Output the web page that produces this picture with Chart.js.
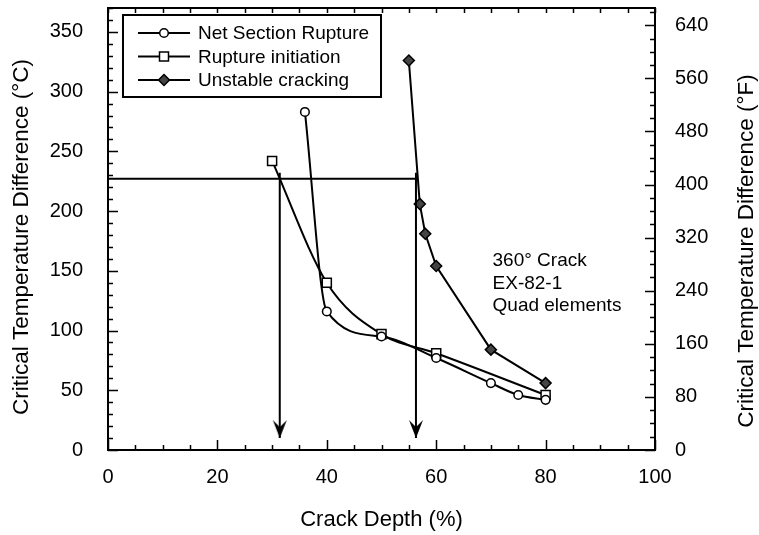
<!DOCTYPE html>
<html><head><meta charset="utf-8">
<script src="https://cdn.jsdelivr.net/npm/chart.js@4/dist/chart.umd.min.js"></script>
<style>html,body{margin:0;padding:0;background:#fff;}#wrap{width:759px;height:535px;}</style>
</head><body><div id="wrap"><canvas id="c" width="759" height="535"></canvas></div>
<script>
// ---- data ----
const netX  = [36, 40, 50, 60, 70, 75, 80];
const netY  = [283, 116, 95, 77, 56, 46, 42];
const ruptX = [30, 40, 50, 60, 80];
const ruptY = [242, 140, 97, 81, 46];
const unstX = [55, 57, 58, 60, 70, 80];
const unstY = [326, 206, 181, 154, 84, 56];
const seriesLabels = ['Net Section Rupture', 'Rupture initiation', 'Unstable cracking'];
const refLevelC = 227;           // horizontal reference line (°C)
const arrowXs = [31.4, 56.3];    // crack depths marked by arrows
const arrowTopC = 232, arrowTipC = 10;
const xTickLabels  = [0, 20, 40, 60, 80, 100];
const yTickLabels  = [0, 50, 100, 150, 200, 250, 300, 350];
const y2TickLabels = [0, 80, 160, 240, 320, 400, 480, 560, 640];
const noteLines = ['360° Crack', 'EX-82-1', 'Quad elements'];
const noteAt = {x: 70.3, y: 158};
const xTitle = 'Crack Depth (%)';
const yTitle = 'Critical Temperature Difference (°C)';
const y2Title = 'Critical Temperature Difference (°F)';
const yMaxC = 370;

const FONT = '"Liberation Sans", Arial, Helvetica, sans-serif';
const pts = (xs, ys) => xs.map((x, i) => ({x, y: ys[i]}));

function makeArrow() {
  const c = document.createElement('canvas');
  c.width = 16; c.height = 40;
  const g = c.getContext('2d');
  g.fillStyle = '#000';
  g.beginPath();
  g.moveTo(8, 20); g.lineTo(1, 2); g.lineTo(8, 9); g.lineTo(15, 2); g.closePath();
  g.fill();
  return c;
}
const arrowImg = makeArrow();

function drawMarker(ctx, style, x, y) {
  ctx.save();
  ctx.lineWidth = 1.5; ctx.strokeStyle = '#000';
  ctx.beginPath();
  if (style === 'circle') { ctx.fillStyle = '#fff'; ctx.arc(x, y, 4.3, 0, Math.PI * 2); }
  else if (style === 'rect') { ctx.fillStyle = '#fff'; ctx.rect(x - 4.5, y - 4.5, 9, 9); }
  else { ctx.fillStyle = '#444'; ctx.moveTo(x, y - 5.5); ctx.lineTo(x + 5.5, y); ctx.lineTo(x, y + 5.5); ctx.lineTo(x - 5.5, y); ctx.closePath(); }
  ctx.fill(); ctx.stroke();
  ctx.restore();
}

const seriesStyles = ['circle', 'rect', 'rectRot'];

function vTitle(ctx, text, cx, cy) {
  ctx.save();
  ctx.font = '22.5px ' + FONT;
  ctx.fillStyle = '#000';
  ctx.textAlign = 'center';
  ctx.textBaseline = 'middle';
  ctx.translate(cx, cy);
  ctx.rotate(-Math.PI / 2);
  ctx.fillText(text, 0, 0);
  ctx.restore();
}

const framePlugin = {
  id: 'frame',
  afterDatasetsDraw(chart) {
    const {ctx, chartArea: a, scales} = chart;
    const {x, y, y2} = scales;
    ctx.save();
    ctx.strokeStyle = '#000';
    ctx.lineWidth = 1.5;
    ctx.beginPath();
    for (let v = 0; v <= 100; v += 5) {
      const px = Math.round(x.getPixelForValue(v)) + 0.5;
      const len = v % 20 === 0 ? 10 : 5;
      ctx.moveTo(px, a.bottom); ctx.lineTo(px, a.bottom - len);
      ctx.moveTo(px, a.top); ctx.lineTo(px, a.top + 5);
    }
    for (let v = 0; v <= yMaxC; v += 10) {
      const py = Math.round(y.getPixelForValue(v)) + 0.5;
      const len = v % 50 === 0 ? 10 : 5;
      ctx.moveTo(a.left, py); ctx.lineTo(a.left + len, py);
    }
    for (let v = 0; v <= y2.max; v += 20) {
      const py = Math.round(y2.getPixelForValue(v)) + 0.5;
      const len = v % 80 === 0 ? 10 : 5;
      ctx.moveTo(a.right, py); ctx.lineTo(a.right - len, py);
    }
    ctx.stroke();
    ctx.lineWidth = 2;
    ctx.strokeRect(a.left, a.top, a.right - a.left, a.bottom - a.top);

    // legend box
    const L = a.left + 15, T = a.top + 7, W = 258, H = 82;
    ctx.fillStyle = '#fff';
    ctx.fillRect(L, T, W, H);
    ctx.strokeRect(L, T, W, H);
    ctx.font = '19px ' + FONT;
    ctx.textBaseline = 'middle';
    ctx.textAlign = 'left';
    seriesLabels.forEach((lab, i) => {
      const cy = T + 18 + i * 23.5;
      ctx.lineWidth = 2;
      ctx.beginPath(); ctx.moveTo(L + 15, cy); ctx.lineTo(L + 67, cy); ctx.stroke();
      drawMarker(ctx, seriesStyles[i], L + 41, cy);
      ctx.fillStyle = '#000';
      ctx.fillText(lab, L + 75, cy + 1);
    });

    // note
    const nx = x.getPixelForValue(noteAt.x), ny = y.getPixelForValue(noteAt.y);
    noteLines.forEach((t, i) => ctx.fillText(t, nx, ny + i * 22.5));
    ctx.restore();

    // axis titles (both read bottom-to-top)
    vTitle(ctx, yTitle, 22, 237);
    vTitle(ctx, y2Title, 747, 251);
  }
};

const lineDs = (label, xs, ys, style, mono) => ({
  label, data: pts(xs, ys), yAxisID: 'y',
  borderColor: '#000', borderWidth: 2,
  pointStyle: style, pointRadius: style === 'rect' ? 6.4 : (style === 'circle' ? 4.3 : 5.5),
  pointBorderWidth: 1.5, pointBorderColor: '#000',
  pointBackgroundColor: style === 'rectRot' ? '#444' : '#fff',
  cubicInterpolationMode: mono ? 'monotone' : 'default', tension: 0
});

const arrowDs = (xv) => ({
  data: [{x: xv, y: arrowTopC}, {x: xv, y: arrowTipC}], yAxisID: 'y',
  borderColor: '#000', borderWidth: 2,
  pointRadius: c => c.dataIndex === 1 ? 1 : 0,
  pointStyle: c => c.dataIndex === 1 ? arrowImg : 'circle'
});

const noPad = s => { s.paddingTop = 0; s.paddingBottom = 0; s.paddingLeft = 0; s.paddingRight = 0; };

new Chart(document.getElementById('c'), {
  type: 'line',
  data: {
    datasets: [
      {data: [{x: 0, y: refLevelC}, {x: arrowXs[1], y: refLevelC}], yAxisID: 'y', borderColor: '#000', borderWidth: 2, pointRadius: 0},
      arrowDs(arrowXs[0]), arrowDs(arrowXs[1]),
      lineDs(seriesLabels[0], netX, netY, 'circle', true),
      lineDs(seriesLabels[1], ruptX, ruptY, 'rect', true),
      lineDs(seriesLabels[2], unstX, unstY, 'rectRot', false)
    ]
  },
  options: {
    responsive: false, animation: false, events: [],
    layout: {padding: {top: 8, left: 0, right: 0, bottom: 0}},
    plugins: {legend: {display: false}, tooltip: {enabled: false}},
    scales: {
      x: {
        type: 'linear', position: 'bottom', min: 0, max: 100,
        afterBuildTicks: s => { s.ticks = xTickLabels.map(v => ({value: v})); },
        afterFit: s => { s.height = 85; noPad(s); },
        ticks: {padding: 15, color: '#000', font: {family: FONT, size: 20}},
        grid: {drawOnChartArea: false, drawTicks: false},
        border: {display: false},
        title: {display: true, text: xTitle, color: '#000', font: {family: FONT, size: 22}, padding: {top: 0, bottom: 2}}
      },
      y: {
        type: 'linear', position: 'left', min: 0, max: yMaxC,
        afterBuildTicks: s => { s.ticks = yTickLabels.map(v => ({value: v})); },
        afterFit: s => { s.width = 108; noPad(s); },
        ticks: {padding: 25, color: '#000', font: {family: FONT, size: 20}},
        grid: {drawOnChartArea: false, drawTicks: false},
        border: {display: false},
        title: {display: false, text: yTitle}
      },
      y2: {
        type: 'linear', position: 'right', min: 0, max: yMaxC * 1.8,
        afterBuildTicks: s => { s.ticks = y2TickLabels.map(v => ({value: v})); },
        afterFit: s => { s.width = 104; noPad(s); },
        ticks: {padding: 20, color: '#000', font: {family: FONT, size: 20}},
        grid: {drawOnChartArea: false, drawTicks: false},
        border: {display: false},
        title: {display: false, text: y2Title}
      }
    }
  },
  plugins: [framePlugin]
});
</script></body></html>
